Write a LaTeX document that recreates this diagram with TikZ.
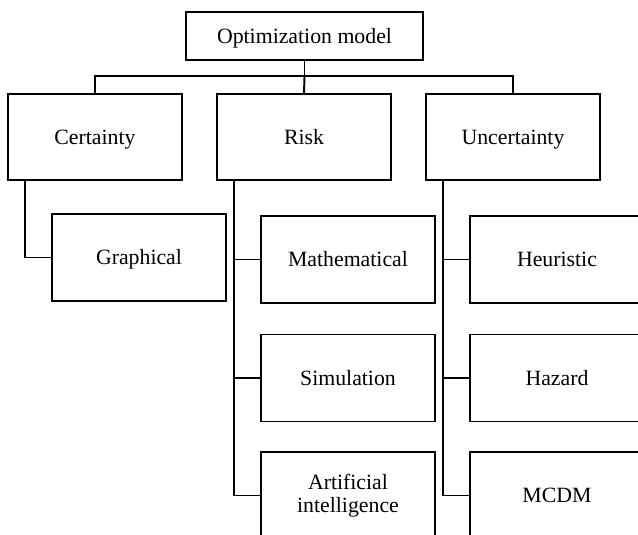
\documentclass[tikz,border=0pt]{standalone}
\usepackage{fontspec}
\setmainfont{Liberation Serif}
\usetikzlibrary{positioning}

\begin{document}
\begin{tikzpicture}[
    box/.style={rectangle, draw, line width=1.1pt, minimum width=3.48cm, minimum height=1.72cm,
      align=center, font=\fontsize{12.4}{13.2}\selectfont, inner sep=0pt,
      text height=0.38cm, text depth=0.1cm},
    link/.style={line width=1.1pt}]
    \clip (0,0) rectangle (12.76,-10.68);

    \node[box, minimum width=4.74cm, minimum height=0.96cm] (opt) at (6.09, -0.72) {Optimization model};

    \node[box] (cert) at (1.90, -2.74) {Certainty};
    \node[box] (risk) at (6.08, -2.74) {Risk};
    \node[box] (unc)  at (10.26, -2.74) {Uncertainty};

    \node[box, minimum height=1.74cm] (graph) at (2.78, -5.15) {Graphical};

    \node[box, minimum height=1.74cm] (math) at (6.96, -5.19) {Mathematical};
    \node[box, minimum height=1.74cm] (sim)  at (6.96, -7.56) {Simulation};
    \node[box, minimum height=1.74cm, text height=, text depth=] (ai) at (6.96, -9.91) {Artificial\\intelligence};

    \node[box, minimum height=1.74cm] (heur) at (11.14, -5.19) {Heuristic};
    \node[box, minimum height=1.74cm] (haz)  at (11.14, -7.56) {Hazard};
    \node[box, minimum height=1.74cm] (mcdm) at (11.14, -9.91) {MCDM};

    % top level
    \coordinate (bus) at (6.09, -1.52);
    \draw[link] (opt.south) -- (bus);
    \draw[link] (cert.north) |- (bus) -| (unc.north);
    \draw[link] (bus) -- (risk.north);

    % certainty
    \draw[link] ([xshift=0.36cm]cert.south west) |- (graph.west);

    % risk
    \draw[link] ([xshift=0.36cm]risk.south west) |- (ai.west);
    \draw[link] ([xshift=0.36cm]risk.south west) |- (math.west);
    \draw[link] ([xshift=0.36cm]risk.south west) |- (sim.west);

    % uncertainty
    \draw[link] ([xshift=0.36cm]unc.south west) |- (mcdm.west);
    \draw[link] ([xshift=0.36cm]unc.south west) |- (heur.west);
    \draw[link] ([xshift=0.36cm]unc.south west) |- (haz.west);
\end{tikzpicture}
\end{document}
